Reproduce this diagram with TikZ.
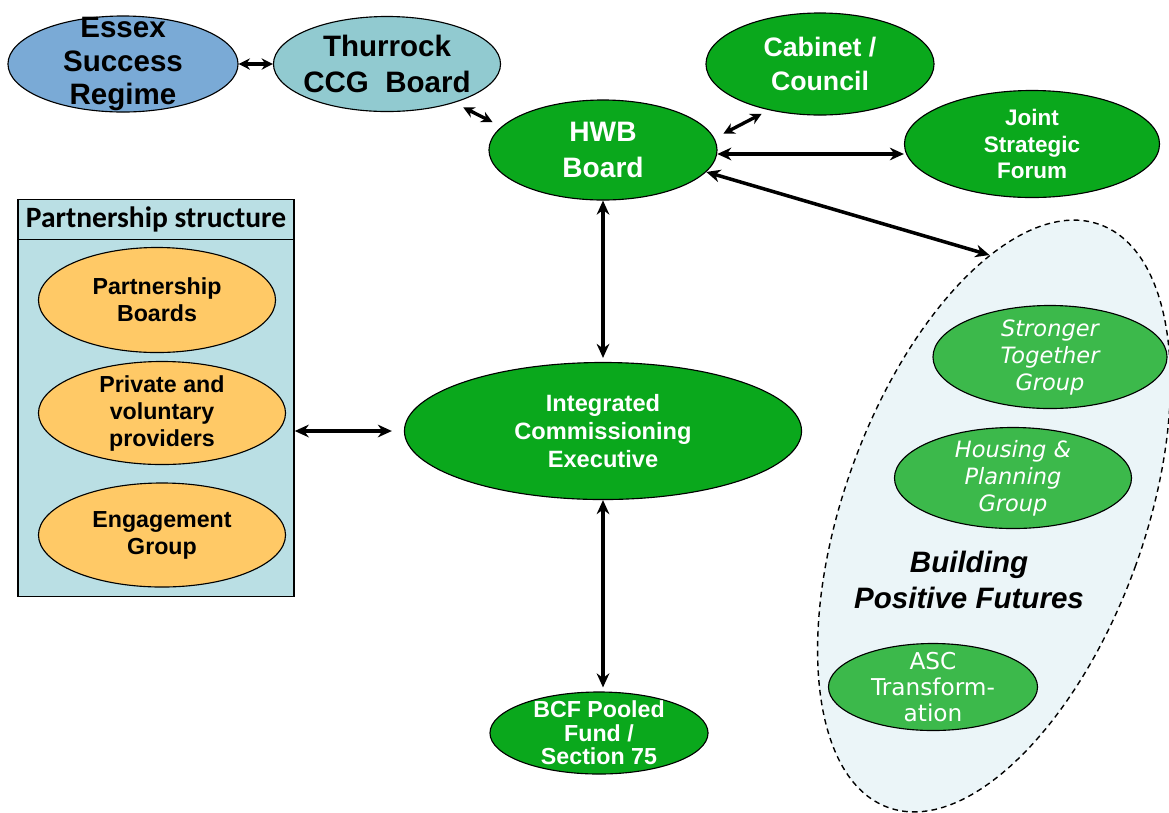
\documentclass[tikz,border=0pt]{standalone}
\usepackage{fontspec}
\setmainfont{Liberation Sans}
\newfontfamily\calfont{Carlito}
\newfontfamily\verfont{DejaVu Sans}
\usetikzlibrary{shapes.geometric,arrows.meta}
\definecolor{essexblue}{RGB}{122,170,214}
\definecolor{ccgteal}{RGB}{145,202,208}
\definecolor{hwbgreen}{RGB}{10,168,28}
\definecolor{bpfgreen}{RGB}{60,185,75}
\definecolor{psfill}{RGB}{186,223,228}
\definecolor{psorange}{RGB}{255,201,102}
\definecolor{bpffill}{RGB}{235,245,248}

\begin{document}
\begin{tikzpicture}[x=0.025cm, y=-0.025cm,
		oval/.style={ellipse, draw=black, line width=0.8pt, inner sep=0pt},
		blacktxt/.style 2 args={align=center, font={\bfseries\fontsize{#1}{#2}\selectfont}},
		whitetxt/.style 2 args={align=center, text=white, font={\bfseries\fontsize{#1}{#2}\selectfont}},
		grouptxt/.style={align=center, text=white, font={\verfont\fontsize{16}{19.2}\selectfont}},
		link/.style={{Stealth[length=10pt,width=9pt]}-{Stealth[length=10pt,width=9pt]}, line width=2.5pt},
		tiplink/.style={{Stealth[length=8pt,width=8pt]}-{Stealth[length=8pt,width=8pt]}, line width=2.4pt}]
	\useasboundingbox (0,0) rectangle (1169,812);

	\node[oval, fill=essexblue, minimum width=5.75cm, minimum height=2.4cm,
		label={[blacktxt={21}{23.5}]center:Essex\\Success\\Regime}] (essex) at (123,64) {};
	\node[oval, fill=ccgteal, minimum width=5.675cm, minimum height=2.375cm,
		label={[blacktxt={21}{25}]center:Thurrock\\CCG~ Board}] (ccg) at (387,64) {};
	\node[oval, fill=hwbgreen, minimum width=5.7cm, minimum height=2.55cm,
		label={[whitetxt={19}{24}]center:Cabinet /\\Council}] (cabinet) at (820,64) {};
	\node[oval, fill=hwbgreen, minimum width=5.7cm, minimum height=2.5cm,
		label={[whitetxt={20}{25.5}]center:HWB\\Board}] (hwb) at (603,150) {};
	\node[oval, fill=hwbgreen, minimum width=6.375cm, minimum height=2.675cm,
		label={[whitetxt={16}{19}]center:Joint\\Strategic\\Forum}] (jsf) at (1032,144) {};
	\node[oval, fill=hwbgreen, minimum width=9.925cm, minimum height=3.425cm,
		label={[whitetxt={16.8}{20}]center:Integrated\\Commissioning\\Executive}] (ice) at (603,431) {};
	\node[oval, fill=hwbgreen, minimum width=5.45cm, minimum height=2.05cm,
		label={[whitetxt={16.5}{16.8}]center:BCF Pooled\\Fund /\\Section 75}] (bcf) at (599,733) {};

	\node[draw=black, line width=1pt, fill=psfill, inner sep=0pt,
		minimum width=6.9cm, minimum height=9.925cm] (psbox) at (156,398) {};
	\node[draw=black, line width=1pt, inner sep=0pt, anchor=north,
		minimum width=6.9cm, minimum height=1cm,
		font={\calfont\bfseries\fontsize{21}{24}\selectfont}] (pstitle) at (psbox.north) {Partnership structure};
	\node[oval, fill=psorange, minimum width=5.925cm, minimum height=2.625cm,
		label={[blacktxt={16.5}{19.2}]center:Partnership\\Boards}] (pboards) at (157,300) {};
	\node[oval, fill=psorange, minimum width=6.175cm, minimum height=2.575cm,
		label={[blacktxt={16.5}{19.2}]center:Private and\\voluntary\\providers}] (pvp) at (162,413) {};
	\node[oval, fill=psorange, minimum width=6.175cm, minimum height=2.6cm,
		label={[blacktxt={16.5}{19.2}]center:Engagement\\Group}] (engage) at (162,535) {};

	\node[ellipse, draw=black, line width=1pt, dash pattern=on 4pt off 3pt, fill=bpffill,
		inner sep=0pt, minimum width=7.5cm, minimum height=15.5cm, rotate=-20] (bpf) at (994,516) {};
	\node[oval, fill=bpfgreen, minimum width=5.85cm, minimum height=2.575cm,
		label={[grouptxt, font={\verfont\itshape\fontsize{16}{19.2}\selectfont}]center:Stronger\\Together\\Group}] (stg) at (1050,357) {};
	\node[oval, fill=bpfgreen, minimum width=5.925cm, minimum height=2.525cm,
		label={[grouptxt, font={\verfont\itshape\fontsize{16}{19.2}\selectfont}]center:Housing \&\\Planning\\Group}] (hpg) at (1013,478) {};
	\node[blacktxt={21}{25}, font={\bfseries\itshape\fontsize{21}{25}\selectfont}] (bpfname) at (969,580) {Building\\Positive Futures};
	\node[oval, fill=bpfgreen, minimum width=5.225cm, minimum height=2.175cm,
		label={[grouptxt, font={\verfont\fontsize{16.5}{18.5}\selectfont}]center:ASC\\Transform-\\ation}] (asc) at (933,687) {};

	\draw[tiplink] (essex) -- (ccg);
	\draw[tiplink, shorten <=0.25cm, shorten >=0.25cm] (ccg.-30.5) -- (hwb.167);
	\draw[tiplink, shorten <=0.25cm, shorten >=0.2cm] (hwb.6.5) -- (cabinet.222);
	\draw[link] (hwb.-2) -- (hwb.-2 -| jsf.west);
	\draw[link] (hwb.-12) -- (bpf.111);
	\draw[link, shorten >=0.1cm] (hwb) -- (ice);
	\draw[link, shorten >=0.3cm] (psbox.east |- ice.west) -- (ice.west);
	\draw[link, shorten >=0.1cm] (ice.south) -- (ice.south |- bcf.north);
\end{tikzpicture}
\end{document}
